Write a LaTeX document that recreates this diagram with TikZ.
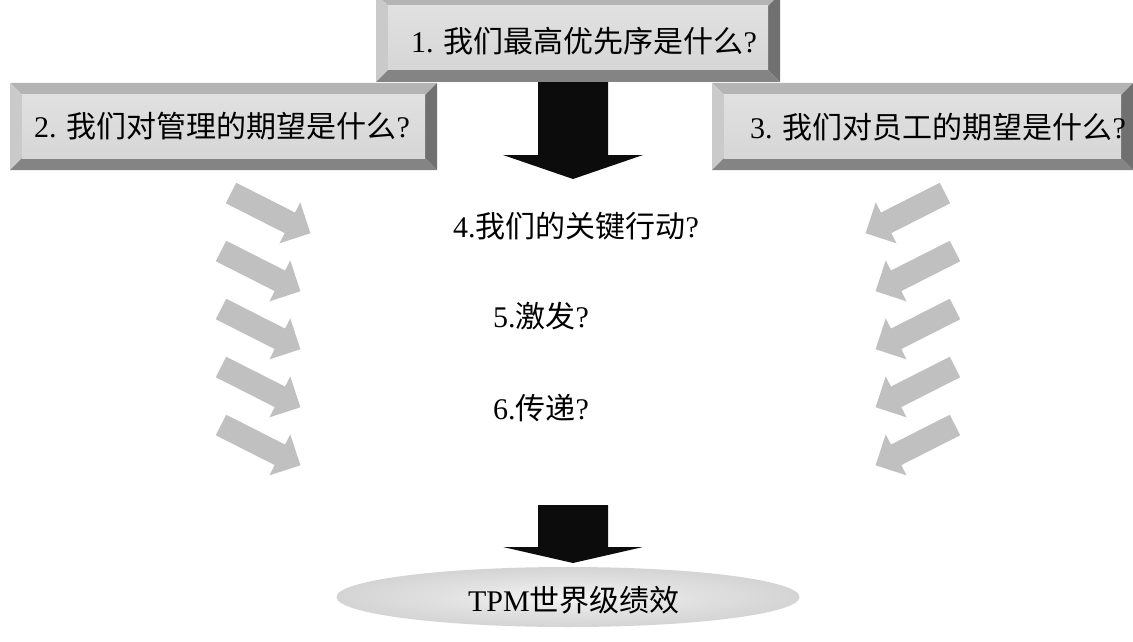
\documentclass[tikz,border=0pt]{standalone}
\usepackage{fontspec}
\setmainfont{Liberation Serif}
\newfontfamily\cjk{Noto Sans CJK SC}
\usetikzlibrary{shapes.geometric}
\definecolor{arrowgray}{RGB}{192,192,192}
\definecolor{bevtop}{RGB}{180,180,180}
\definecolor{bevleft}{RGB}{202,202,202}
\definecolor{bevbot}{RGB}{132,132,132}
\definecolor{bevright}{RGB}{112,112,112}
\definecolor{arrowblack}{RGB}{12,12,12}
\pgfdeclareradialshading{ellshade}{\pgfpoint{0bp}{0bp}}{color(0bp)=(white!96!black); color(14bp)=(white!88!black); color(50bp)=(white!72!black)}
\newcommand\bevelbox[1]{%
  \fill[bevtop] (#1.north west) -- (#1.north east) -- ([xshift=-12pt,yshift=-12pt]#1.north east) -- ([xshift=12pt,yshift=-12pt]#1.north west) -- cycle;
  \fill[bevleft] (#1.north west) -- ([xshift=12pt,yshift=-12pt]#1.north west) -- ([xshift=12pt,yshift=12pt]#1.south west) -- (#1.south west) -- cycle;
  \fill[bevbot] (#1.south west) -- ([xshift=12pt,yshift=12pt]#1.south west) -- ([xshift=-12pt,yshift=12pt]#1.south east) -- (#1.south east) -- cycle;
  \fill[bevright] (#1.north east) -- ([xshift=-12pt,yshift=-12pt]#1.north east) -- ([xshift=-12pt,yshift=12pt]#1.south east) -- (#1.south east) -- cycle;
  \shade[top color=white!88!black, middle color=white, bottom color=white!84!black] ([xshift=12pt,yshift=-12pt]#1.north west) rectangle ([xshift=-12pt,yshift=12pt]#1.south east);
}
\begin{document}
\begin{tikzpicture}[x=1pt,y=-1pt,
  outerbox/.style={inner sep=0pt, outer sep=0pt, draw=none},
  qtext/.style={font=\fontsize{30}{36}\selectfont, inner sep=0pt, text=black},
  grayarr/.style={fill=arrowgray},
  blackarr/.style={fill=arrowblack}]
\useasboundingbox[fill=white] (0,0) rectangle (1133,642);
% gray arrows, left side
\foreach \tx/\ty in {231/193, 221/251, 221/309, 221/367, 221/425}{
  \begin{scope}[shift={(\tx,\ty)}, x={(0.892pt,-0.452pt)}, y={(-0.452pt,-0.892pt)}]
    \fill[grayarr] (0,-11.5) -- (66,-11.5) -- (66,-23) -- (89,0) -- (66,23) -- (66,11.5) -- (0,11.5) -- cycle;
  \end{scope}
}
% gray arrows, right side
\foreach \tx/\ty in {945/193, 955/251, 955/309, 955/367, 955/425}{
  \begin{scope}[shift={(\tx,\ty)}, x={(-0.892pt,-0.452pt)}, y={(0.452pt,-0.892pt)}]
    \fill[grayarr] (0,-11.5) -- (66,-11.5) -- (66,-23) -- (89,0) -- (66,23) -- (66,11.5) -- (0,11.5) -- cycle;
  \end{scope}
}
% boxes
\node[outerbox, minimum width=427pt, minimum height=87pt] (b2) at (223.5,126.5) {};
\node[outerbox, minimum width=421pt, minimum height=87pt] (b3) at (922.5,126.5) {};
\node[outerbox, minimum width=404pt, minimum height=88pt] (b1) at (578,38) {};
% top black arrow (under box 1)
\fill[blackarr] ([xshift=-40pt]b1.south) -- ([xshift=30pt]b1.south) -- (608,155) -- (643,155) -- (573,179) -- (503,155) -- (538,155) -- (538,80) -- cycle;
\bevelbox{b2}
\bevelbox{b3}
\bevelbox{b1}
\node[qtext] (q1) at (584,41) {1. {\cjk 我们最高优先序是什么}?};
\node[qtext] (q2) at (222,126) {2. {\cjk 我们对管理的期望是什么}?};
\node[qtext] (q3) at (938,127) {3. {\cjk 我们对员工的期望是什么}?};
% middle texts
\node[qtext] (q4) at (576,226) {4.{\cjk 我们的关键行动}?};
\node[qtext] (q5) at (541,316) {5.{\cjk 激发}?};
\node[qtext] (q6) at (541,408) {6.{\cjk 传递}?};
% goal
\node[ellipse, minimum width=463pt, minimum height=60pt, inner sep=0pt, shading=ellshade] (goal) at (568,597) {};
\node[qtext] (goaltext) at (574,600) {TPM{\cjk 世界级绩效}};
% bottom black arrow
\fill[blackarr] (538,505) -- (608,505) -- (608,547) -- (643,547) -- (573,563) -- (503,547) -- (538,547) -- cycle;
\end{tikzpicture}
\end{document}
